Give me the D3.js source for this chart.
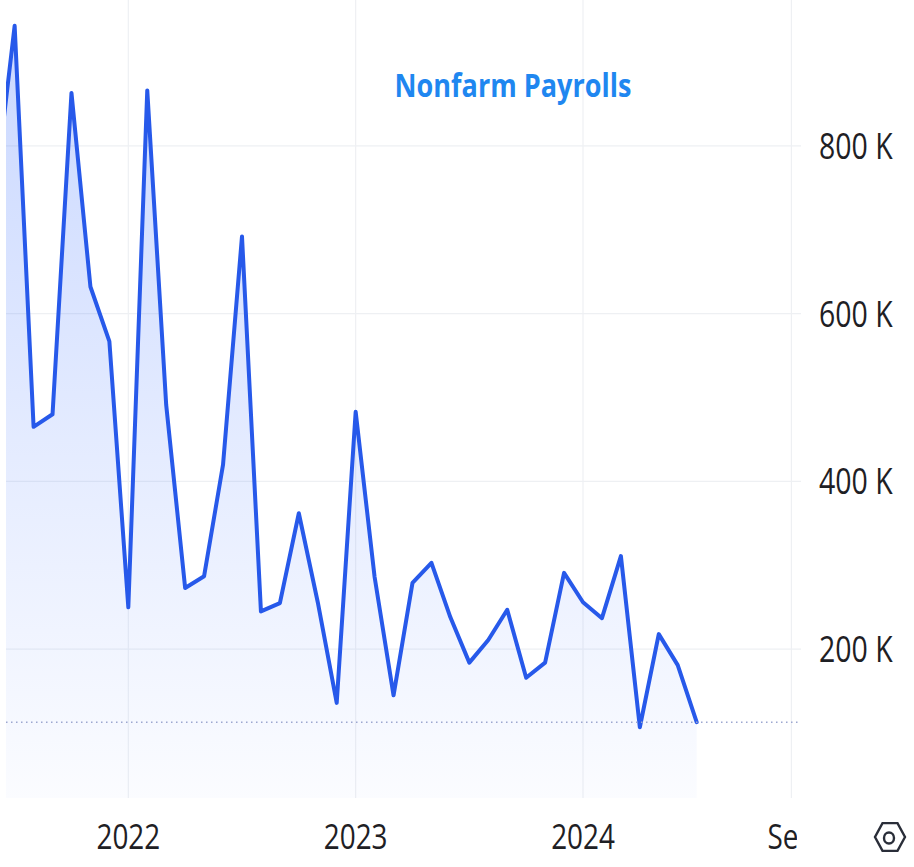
<!DOCTYPE html>
<html>
<head>
<meta charset="utf-8">
<script src="https://cdn.jsdelivr.net/npm/d3@7"></script>
<style>
  html, body { margin: 0; padding: 0; background: #fff; }
  svg { display: block; font-family: "Open Sans", "Noto Sans", sans-serif; }
  .grid line { stroke: #eef0f3; stroke-width: 1.2; }
  .ylabel, .xlabel { fill: #1e2024; }
  .payLine { fill: none; stroke: #2759ea; stroke-width: 4; stroke-linejoin: round; stroke-linecap: round; }
  .lastLine { stroke: #9ba6cf; stroke-width: 1.5; stroke-dasharray: 1.5 3.5; }
  .title { fill: #1f87f0; font-weight: 700; }
</style>
</head>
<body>
<div id="chart"></div>
<script>
// monthly nonfarm payrolls, thousands (Jun 2021 .. Jul 2024)
var months = [
  "2021-06","2021-07","2021-08","2021-09","2021-10","2021-11","2021-12",
  "2022-01","2022-02","2022-03","2022-04","2022-05","2022-06","2022-07",
  "2022-08","2022-09","2022-10","2022-11","2022-12",
  "2023-01","2023-02","2023-03","2023-04","2023-05","2023-06","2023-07",
  "2023-08","2023-09","2023-10","2023-11","2023-12",
  "2024-01","2024-02","2024-03","2024-04","2024-05","2024-06","2024-07"
];
var payrolls = [
  750, 943, 465, 480, 863, 632, 567,
  250, 866, 491, 273, 287, 420, 692,
  245, 255, 362, 256, 136,
  483, 286, 145, 279, 303, 238, 184,
  211, 247, 166, 184, 291,
  256, 237, 311, 107, 218, 181, 113
];

// axis ticks (month index into the series above, extended past the end)
var xTickIndex  = [7, 19, 31, 42];
var xTickLabels = ["2022", "2023", "2024", "Sep"];
var yTicks      = [200, 400, 600, 800];

var PayrollChart = function(opts) {
  this.element = opts.element;
  this.width   = opts.width;
  this.height  = opts.height;
  this.plot    = opts.plot;   // plotting box {left, right, top, bottom}
  this.draw();
}

PayrollChart.prototype.draw = function() {
  this.svg = this.element.append("svg")
    .attr("width", this.width)
    .attr("height", this.height);

  this.defs = this.svg.append("defs");

  this.createScales();
  this.addGrid();
  this.addArea();
  this.addAxes();
  this.addTitle();
  this.addIcon();
}

PayrollChart.prototype.createScales = function() {
  this.xScale = d3.scaleLinear()
    .domain([0, 42])
    .range([-4.3, 791.4]);

  this.yScale = d3.scaleLinear()
    .domain([0, 1000])
    .range([817, -22]);
}

PayrollChart.prototype.addGrid = function() {
  var _this = this;
  var p = this.plot;

  var grid = this.svg.append("g").attr("class", "grid");

  grid.selectAll(".hgrid")
    .data(yTicks)
    .join("line")
    .attr("class", "hgrid")
    .attr("x1", p.left).attr("x2", p.right + 6)
    .attr("y1", d => _this.yScale(d)).attr("y2", d => _this.yScale(d));

  grid.selectAll(".vgrid")
    .data(xTickIndex)
    .join("line")
    .attr("class", "vgrid")
    .attr("x1", d => _this.xScale(d)).attr("x2", d => _this.xScale(d))
    .attr("y1", p.top).attr("y2", p.bottom);
}

PayrollChart.prototype.addArea = function() {
  var _this = this;
  var p = this.plot;

  this.defs.append("clipPath").attr("id", "plotClip")
    .append("rect")
    .attr("x", p.left).attr("y", p.top)
    .attr("width", p.right - p.left).attr("height", p.bottom - p.top);

  var grad = this.defs.append("linearGradient")
    .attr("id", "areaGrad")
    .attr("x1", 0).attr("y1", 0).attr("x2", 0).attr("y2", 1);
  grad.append("stop").attr("offset", "0%").attr("stop-color", "#2962ff").attr("stop-opacity", 0.25);
  grad.append("stop").attr("offset", "100%").attr("stop-color", "#2962ff").attr("stop-opacity", 0.02);

  var data = payrolls.map((v, i) => ({ i: i, v: v }));

  var area = d3.area()
    .x(d => _this.xScale(d.i))
    .y0(p.bottom)
    .y1(d => _this.yScale(d.v));

  var line = d3.line()
    .x(d => _this.xScale(d.i))
    .y(d => _this.yScale(d.v));

  var g = this.svg.append("g").attr("clip-path", "url(#plotClip)");

  g.append("path")
    .datum(data)
    .attr("fill", "url(#areaGrad)")
    .attr("d", area);

  // last value marker line
  var last = payrolls[payrolls.length - 1];
  this.svg.append("line")
    .attr("class", "lastLine")
    .attr("x1", p.left).attr("x2", p.right + 6)
    .attr("y1", this.yScale(last)).attr("y2", this.yScale(last));

  g.append("path")
    .datum(data)
    .attr("class", "payLine")
    .attr("d", line);
}

PayrollChart.prototype.addAxes = function() {
  var _this = this;
  var p = this.plot;

  // price scale on the right
  this.svg.append("g")
    .selectAll("text")
    .data(yTicks)
    .join("text")
    .attr("class", "ylabel")
    .attr("transform", d => "translate(819," + (_this.yScale(d) + 13) + ") scale(0.79,1)")
    .attr("font-size", 36)
    .text(d => d + " K");

  // time scale, clipped where the price scale starts
  this.defs.append("clipPath").attr("id", "timeClip")
    .append("rect")
    .attr("x", 0).attr("y", p.bottom)
    .attr("width", 797).attr("height", this.height - p.bottom);

  this.svg.append("g")
    .attr("clip-path", "url(#timeClip)")
    .selectAll("text")
    .data(xTickIndex)
    .join("text")
    .attr("class", "xlabel")
    .attr("text-anchor", "middle")
    .attr("transform", d => "translate(" + _this.xScale(d) + ",849) scale(0.82,1)")
    .attr("font-size", 34)
    .text((d, i) => xTickLabels[i]);
}

PayrollChart.prototype.addTitle = function() {
  this.svg.append("text")
    .attr("class", "title")
    .attr("text-anchor", "middle")
    .attr("transform", "translate(513,97) scale(0.82,1)")
    .attr("font-size", 33)
    .text("Nonfarm Payrolls");
}

PayrollChart.prototype.addIcon = function() {
  // settings hexagon in the corner
  var cx = 890, cy = 837, rx = 15, ry = 16;
  var pts = d3.range(6).map(k => {
    var a = Math.PI / 3 * k;
    return [cx + rx * Math.cos(a), cy + ry * Math.sin(a)];
  });
  var icon = this.svg.append("g")
    .attr("fill", "none").attr("stroke", "#2a2e39").attr("stroke-width", 2.4);
  icon.append("path").attr("d", "M" + pts.join("L") + "Z");
  icon.append("ellipse").attr("cx", cx - 1).attr("cy", cy + 1).attr("rx", 5).attr("ry", 5.5);
}

new PayrollChart({
  element: d3.select("#chart"),
  width: 914,
  height: 867,
  plot: { left: 6, right: 795, top: 0, bottom: 798 }
});
</script>
</body>
</html>
